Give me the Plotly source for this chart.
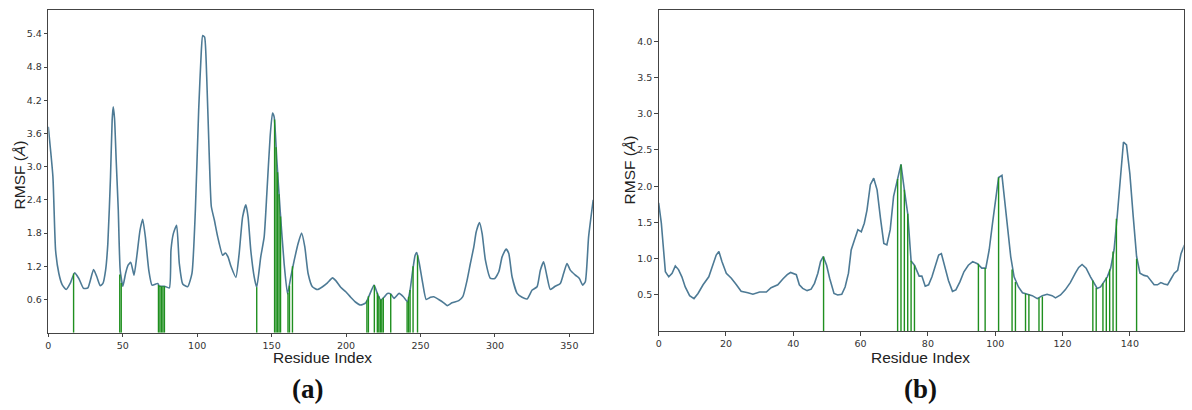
import plotly.graph_objects as go

# ---------------- data ----------------
a_res = [0, 3.1, 4.9, 7.1, 9.3, 12, 14.7, 17.6, 20.5, 23.7, 26.6, 30.4, 32.6, 34.9, 36.7, 38.5, 40, 41.8, 42.9, 43.6,
         44.5, 45.6, 47, 48.3, 50.1, 51.9, 53.6, 55.4, 57.6, 59.4, 61.6, 63.4, 65.2, 67.5, 69.7, 73.5, 74.6, 78, 81.3, 82.4,
         84, 86.2, 88, 90.3, 93.6, 96.5, 98.8, 101, 102.8, 103.7, 105, 106.4, 108.2, 109.5, 111.5, 113.8, 117.1, 118.9, 120.7, 122.7,
         126, 128.2, 130.5, 132.7, 134.2, 136, 138.3, 140, 142.7, 145, 146.8, 149, 150.6, 151.7, 153.5, 155.7, 158.4, 160.7, 162.9, 165.2,
         167.8, 170.1, 172.3, 174.5, 177.4, 180.8, 184.2, 187.5, 190.9, 193.1, 196.4, 199.8, 203.1, 206.5, 209.8, 213.2, 215.4, 218.8, 221, 223.3,
         225.5, 227.8, 230, 232.2, 235.6, 238.5, 241.2, 243, 244.8, 246.4, 247.5, 249.2, 251.5, 253.8, 256.7, 258.9, 262.2, 265.6, 267.9, 271.2,
         275.7, 278.4, 281.3, 283.5, 285.8, 287.4, 289.6, 291.4, 293.6, 297, 299.9, 302.6, 304.8, 307.5, 309.3, 311.5, 314.9, 318.2, 321.6, 325,
         328.3, 330.5, 332.7, 335, 337.2, 340.5, 343.9, 346.1, 348.4, 350.6, 354, 356.7, 358.9, 360.7, 362.9, 366]
a_rmsf = [3.72, 2.82, 1.49, 1.07, 0.87, 0.78, 0.89, 1.08, 0.98, 0.80, 0.81, 1.14, 1.01, 0.85, 0.89, 1.13, 1.61, 2.82, 3.84, 4.08,
          3.87, 3.12, 2.22, 1.13, 0.84, 1.07, 1.22, 1.27, 1.04, 1.37, 1.85, 2.05, 1.73, 1.13, 0.86, 0.89, 0.84, 0.84, 0.81, 1.49,
          1.79, 1.94, 1.25, 0.88, 0.83, 1.07, 2.22, 4.02, 5.10, 5.37, 5.34, 4.62, 3.12, 2.28, 2.04, 1.73, 1.40, 1.44, 1.37, 1.20,
          1.00, 1.43, 2.09, 2.31, 2.09, 1.49, 1.01, 0.82, 1.37, 1.73, 2.52, 3.54, 3.97, 3.90, 3.12, 2.22, 1.25, 0.70, 1.01, 1.31,
          1.61, 1.80, 1.55, 1.07, 0.83, 0.78, 0.83, 0.90, 0.99, 0.94, 0.82, 0.74, 0.64, 0.55, 0.50, 0.54, 0.66, 0.86, 0.71, 0.59,
          0.64, 0.71, 0.70, 0.62, 0.71, 0.65, 0.56, 0.77, 1.13, 1.40, 1.45, 1.25, 0.89, 0.60, 0.64, 0.65, 0.60, 0.54, 0.49, 0.54,
          0.58, 0.65, 0.95, 1.25, 1.55, 1.82, 1.99, 1.79, 1.31, 0.98, 0.98, 1.10, 1.37, 1.51, 1.43, 1.01, 0.71, 0.64, 0.61, 0.77,
          0.83, 1.13, 1.28, 1.01, 0.78, 0.84, 0.89, 1.07, 1.25, 1.13, 1.04, 0.98, 0.86, 0.92, 1.73, 2.40]

a_hot_res = [17, 48, 49, 74, 75, 76, 77, 78, 140, 152, 153, 154, 155, 156, 161, 162, 164, 214, 215, 219,
             221, 222, 223, 224, 225, 230, 241, 242, 243, 245, 248]
a_hot_val = [1.07, 1.05, 0.90, 0.86, 0.85, 0.84, 0.84, 0.84, 0.82, 3.85, 3.35, 2.90, 2.50, 2.10, 0.72, 0.85, 1.20, 0.58, 0.66, 0.86,
             0.72, 0.66, 0.60, 0.60, 0.63, 0.70, 0.56, 0.65, 0.77, 1.20, 1.40]

b_res = [0, 0.8, 1.3, 2, 3, 4, 4.95, 5.9, 6.9, 7.9, 9.2, 10.5, 11.7, 13.2, 14.9, 16.1, 17.1, 17.9, 18.8, 20.1,
         21.6, 23.1, 24.5, 26.5, 28, 30, 32, 33.4, 35.4, 36.9, 38.2, 39.2, 40.9, 41.8, 42.8, 44.1, 45.3, 46.3, 47.3, 48.1,
         48.9, 49.9, 50.8, 52.1, 53.2, 54.4, 55.4, 56.4, 57.2, 58.2, 59.2, 60.2, 61.1, 61.9, 62.9, 63.9, 64.9, 65.9, 66.9, 67.8,
         68.8, 69.8, 70.8, 72, 73, 74, 75, 76, 77.4, 78.2, 79.2, 80.2, 81.2, 82.4, 83.2, 84, 84.8, 86.1, 87.3, 88.3,
         89.5, 90.7, 92, 93.3, 94.7, 96, 97.2, 98.2, 99.2, 100.2, 101, 102, 102.7, 103.6, 104.6, 105.6, 106.9, 108.1, 109.5, 111,
         112.5, 114, 115.4, 116.9, 117.9, 119.4, 120.8, 122.3, 123.8, 124.8, 125.8, 127, 128.3, 129.3, 130.3, 131.3, 132.3, 133.3, 134.3, 135.3,
         136.3, 137.3, 138.1, 139, 140, 141, 142, 143, 144.2, 145.2, 146.2, 147.2, 148.2, 149.2, 150.2, 151.2, 152.2, 153.2, 154.2, 155.2, 156.2]
b_rmsf = [1.77, 1.49, 1.21, 0.82, 0.75, 0.80, 0.90, 0.85, 0.75, 0.61, 0.49, 0.45, 0.52, 0.64, 0.75, 0.93, 1.05, 1.10, 0.96, 0.80,
          0.73, 0.64, 0.55, 0.53, 0.51, 0.54, 0.54, 0.60, 0.64, 0.72, 0.78, 0.81, 0.78, 0.64, 0.59, 0.56, 0.58, 0.66, 0.80, 0.96,
          1.03, 0.91, 0.73, 0.52, 0.50, 0.51, 0.61, 0.80, 1.12, 1.26, 1.40, 1.37, 1.49, 1.67, 2.02, 2.11, 1.95, 1.56, 1.21, 1.19,
          1.40, 1.86, 2.08, 2.30, 1.95, 1.62, 0.97, 0.91, 0.76, 0.76, 0.62, 0.64, 0.75, 0.93, 1.05, 1.07, 0.93, 0.70, 0.55, 0.57,
          0.68, 0.82, 0.91, 0.96, 0.93, 0.87, 0.87, 1.12, 1.49, 1.86, 2.12, 2.15, 1.86, 1.44, 1.03, 0.75, 0.61, 0.53, 0.51, 0.49,
          0.45, 0.49, 0.51, 0.49, 0.46, 0.50, 0.57, 0.67, 0.80, 0.88, 0.92, 0.87, 0.75, 0.66, 0.59, 0.61, 0.68, 0.75, 0.87, 1.12,
          1.62, 2.17, 2.61, 2.57, 2.17, 1.58, 1.03, 0.80, 0.77, 0.76, 0.70, 0.64, 0.64, 0.67, 0.65, 0.64, 0.72, 0.80, 0.84, 1.07, 1.19]

b_hot_res = [49, 71, 72, 73, 74, 75, 76, 95, 97, 101, 105, 106, 109, 110, 113, 114, 129, 130, 132, 133, 134, 135, 136, 142]
b_hot_val = [1.03, 2.10, 2.30, 1.95, 1.62, 0.97, 0.91, 0.93, 0.87, 2.12, 0.85, 0.68, 0.52, 0.51, 0.46, 0.48, 0.70, 0.60, 0.66, 0.74,
             0.85, 1.10, 1.55, 1.00]

a_xticks = [0, 50, 100, 150, 200, 250, 300, 350]
a_yticks = [0.6, 1.2, 1.8, 2.4, 3.0, 3.6, 4.2, 4.8, 5.4]
b_xticks = [0, 20, 40, 60, 80, 100, 120, 140]
b_yticks = [0.5, 1.0, 1.5, 2.0, 2.5, 3.0, 3.5, 4.0]

# ---------------- figure ----------------
W, H = 1192, 410
LINE = "#4d7a95"
GREEN = "#1f8f1f"


def stems(xs, ys):
    sx, sy = [], []
    for x, y in zip(xs, ys):
        sx += [x, x, None]
        sy += [0, y, None]
    return sx, sy


fig = go.Figure()
fig.add_trace(go.Scatter(x=a_res, y=a_rmsf, mode="lines", line=dict(color=LINE, width=1.6, shape="spline", smoothing=0.5),
                         xaxis="x", yaxis="y", showlegend=False))
sx, sy = stems(a_hot_res, a_hot_val)
fig.add_trace(go.Scatter(x=sx, y=sy, mode="lines", line=dict(color=GREEN, width=1.4), xaxis="x", yaxis="y", showlegend=False))

fig.add_trace(go.Scatter(x=b_res, y=b_rmsf, mode="lines", line=dict(color=LINE, width=1.6),
                         xaxis="x2", yaxis="y2", showlegend=False))
sx, sy = stems(b_hot_res, b_hot_val)
fig.add_trace(go.Scatter(x=sx, y=sy, mode="lines", line=dict(color=GREEN, width=1.4), xaxis="x2", yaxis="y2", showlegend=False))

axis_common = dict(showgrid=False, zeroline=False, showline=True, mirror=True, linecolor="#444", linewidth=1,
                   ticks="outside", ticklen=3.5, tickwidth=1, tickcolor="#444",
                   tickfont=dict(family="DejaVu Sans", size=9.5, color="#333"))

fig.update_layout(
    width=W, height=H, margin=dict(l=0, r=0, t=0, b=0),
    paper_bgcolor="white", plot_bgcolor="white",
    xaxis=dict(domain=[45.4 / W, 591.7 / W], range=[0, 366], tickvals=a_xticks, anchor="y", **axis_common),
    yaxis=dict(domain=[1 - 332.7 / H, 1 - 10 / H], range=[0, 5.83], tickvals=a_yticks,
               ticktext=[f"{v:.1f}" for v in a_yticks], anchor="x", **axis_common),
    xaxis2=dict(domain=[657.3 / W, 1183.7 / W], range=[0, 156], tickvals=b_xticks, anchor="y2", **axis_common),
    yaxis2=dict(domain=[1 - 331.2 / H, 1 - 10 / H], range=[0, 4.43], tickvals=b_yticks,
                ticktext=[f"{v:.1f}" for v in b_yticks], anchor="x2", **axis_common),
)

ann = []
title_font = dict(family="Liberation Sans", size=15.5, color="#222")
for xc in [320 / W, 920 / W]:
    ann.append(dict(text="Residue Index", x=xc, y=1 - 357 / H, xref="paper", yref="paper",
                    xanchor="center", yanchor="middle", showarrow=False, font=title_font))
for xc, yc in [(17.5 / W, 1 - 175 / H), (629 / W, 1 - 170 / H)]:
    ann.append(dict(text="RMSF (<i>Å</i>)", x=xc, y=yc, xref="paper", yref="paper", textangle=-90,
                    xanchor="center", yanchor="middle", showarrow=False, font=title_font))
for lab, xc in [("<b>(a)</b>", 305 / W), ("<b>(b)</b>", 920 / W)]:
    ann.append(dict(text=lab, x=xc, y=1 - 389 / H, xref="paper", yref="paper", xanchor="center", yanchor="middle",
                    showarrow=False, font=dict(family="Liberation Serif", size=27, color="#111")))
fig.update_layout(annotations=ann)

fig.write_html("out.html")
